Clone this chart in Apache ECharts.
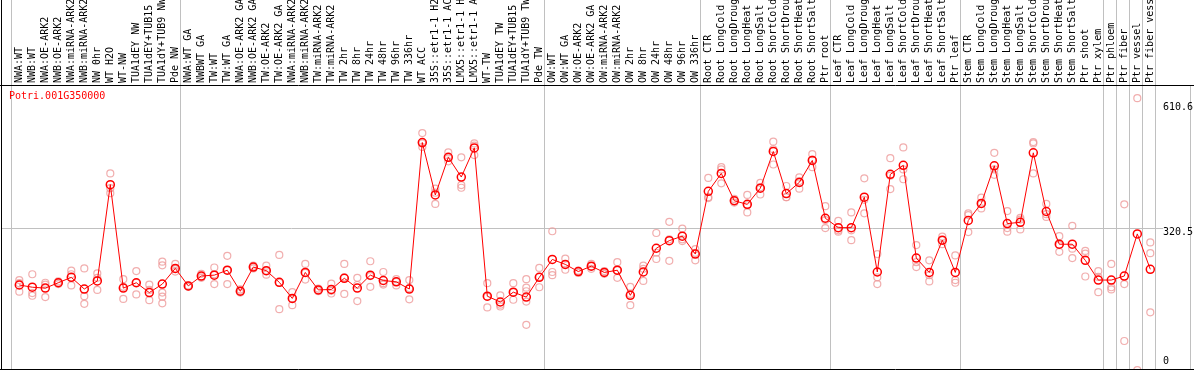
<!DOCTYPE html>
<html><head><meta charset="utf-8">
<script src="https://cdn.jsdelivr.net/npm/echarts@6/dist/echarts.min.js"></script>
<style>html,body{margin:0;padding:0;background:#fff}#c{width:1194px;height:370px}</style>
</head><body><div id="c"></div>
<script>
const chartTitle = 'Potri.001G350000';
const categories = [
 'NWA:WT','NWB:WT','NWA:OE-ARK2','NWB:OE-ARK2','NWA:miRNA-ARK2','NWB:miRNA-ARK2','NW 0hr','WT H2O','WT-NW','TUA1dEY NW','TUA1dEY+TUB15 NW','TUA1dY+TUB9 NW','Pde NW',
 'NWA:WT GA','NWBWT GA','TW:WT','TW:WT GA','NWA:OE-ARK2 GA','NWB:OE-ARK2 GA','TW:OE-ARK2','TW:OE-ARK2 GA','NWA:miRNA-ARK2 GA','NWB:miRNA-ARK2 GA','TW:miRNA-ARK2','TW:miRNA-ARK2 GA',
 'TW 2hr','TW 8hr','TW 24hr','TW 48hr','TW 96hr','TW 336hr','WT ACC','35S::etr1-1 H2O','35S::etr1-1 ACC','LMX5::etr1-1 H2O','LMX5::etr1-1 ACC','WT-TW','TUA1dEY TW','TUA1dEY+TUB15 TW','TUA1dY+TUB9 TW','Pde TW',
 'OW:WT','OW:WT GA','OW:OE-ARK2','OW:OE-ARK2 GA','OW:miRNA-ARK2','OW:miRNA-ARK2 GA','OW 2hr','OW 8hr','OW 24hr','OW 48hr','OW 96hr','OW 336hr',
 'Root CTR','Root LongCold','Root LongDrought','Root LongHeat','Root LongSalt','Root ShortCold','Root ShortDrought','Root ShortHeat','Root ShortSalt','Ptr root',
 'Leaf CTR','Leaf LongCold','Leaf LongDrought','Leaf LongHeat','Leaf LongSalt','Leaf ShortCold','Leaf ShortDrought','Leaf ShortHeat','Leaf ShortSalt','Ptr leaf',
 'Stem CTR','Stem LongCold','Stem LongDrought','Stem LongHeat','Stem LongSalt','Stem ShortCold','Stem ShortDrought','Stem ShortHeat','Stem ShortSalt','Ptr shoot','Ptr xylem',
 'Ptr phloem','Ptr fiber','Ptr vessel','Ptr fiber vessel'
];
const means = [
 194,189,187,199,211,185,203,418,187,199,177,196,231,
 192,214,216,227,180,234,226,200,164,222,183,184,
 209,187,216,204,201,185,512,395,479,435,500,169,156,178,167,211,
 251,240,224,236,222,227,171,223,276,293,303,263,
 403,443,382,374,410,492,398,423,472,343,
 322,322,390,223,441,461,254,222,294,222,
 338,376,460,331,334,489,358,285,285,249,205,
 205,214,308,229
];
const replicates = [
 [205,198,179],[218,176,170],[199,195,167],[202,199,196],[226,218,193],[231,169,152],[220,210,183],[443,410,399],[207,190,163],[225,199,173],[195,183,160],[246,238,177,168,153],[241,230,224],
 [193,191,190],[219,213,210],[233,218,196],[259,227,196],[184,181,177],[237,234,231],[237,226,217],[261,199,140],[178,164,149],[241,221,206],[186,183,180],[197,181,175],
 [241,211,174],[210,194,158],[247,214,190],[223,198,195],[207,201,193],[205,187,162],[533,510,502],[409,400,375],[490,478,470],[479,417,411],[510,505,484],[198,168,144],[171,150,146],[198,178,161],[207,188,180,157,105],[232,212,189],
 [314,223,216],[253,240,228],[226,224,221],[241,236,230],[225,222,219],[245,227,210],[190,174,149],[237,230,203],[310,266,252],[335,296,248],[320,296,292],[274,266,249],
 [433,390,388],[457,452,421],[386,382,378],[395,372,356],[422,412,396],[514,497,463],[415,390,390],[434,426,409],[486,474,457],[370,339,321],
 [337,316,313],[356,316,294],[432,384,354],[263,211,196],[477,438,408],[501,452,430],[283,245,234],[249,216,202],[302,294,285],[260,205,199],
 [354,350,312],[389,375,365],[489,452,440],[359,321,313],[344,340,318],[513,510,443],[375,352,346],[303,283,268],[326,275,254],[270,264,213],[225,212,178],
 [241,189,184],[374,196,69],[611,4],[289,265,133]
];
// index of the first category of every group (separators drawn before them)
const groupStarts = [0,13,41,53,63,73,84,85,86,87];
const yTickValues = [610.6, 320.5, 0];
const yTickLabels = ['610.6','320.5','0'];
const yMax = 640.4;

const repPoints = [];
replicates.forEach((arr,i)=>arr.forEach(v=>repPoints.push([i,v])));

const FONT = 'DejaVu Sans Mono';
const chart = echarts.init(document.getElementById('c'), null, {renderer:'canvas'});
chart.setOption({
  animation:false,
  backgroundColor:'#fff',
  grid:[
    {left:12.8, width:1144, top:0, height:83, outerBoundsMode:'none'},
    {left:12.8, width:1144, top:85, height:286.9, outerBoundsMode:'none'}
  ],
  xAxis:[
    {type:'category', gridIndex:0, data:categories, boundaryGap:true, position:'bottom',
     axisLine:{show:false}, axisTick:{show:false}, splitLine:{show:false},
     axisLabel:{inside:true, rotate:90, interval:0, margin:0, hideOverlap:false,
       fontFamily:FONT, fontSize:10, color:'#000'}},
    {type:'category', gridIndex:1, data:categories, boundaryGap:true, show:false}
  ],
  yAxis:[
    {type:'value', gridIndex:0, show:false},
    {type:'value', gridIndex:1, min:0, max:yMax, show:false}
  ],
  series:[
    {type:'scatter', xAxisIndex:1, yAxisIndex:1, data:repPoints, symbol:'circle', symbolSize:7,
     itemStyle:{color:'rgba(255,255,255,0)', borderColor:'#ee9a9a', borderWidth:1.2}, z:2, silent:true, clip:false},
    {type:'line', xAxisIndex:1, yAxisIndex:1, data:means, symbol:'circle', symbolSize:8, showSymbol:true,
     lineStyle:{color:'#ff0000', width:1}, itemStyle:{color:'rgba(255,255,255,0)', borderColor:'#ff0000', borderWidth:1.5},
     z:3, silent:true}
  ]
});

const px = i => chart.convertToPixel({xAxisIndex:1}, i);
const py = v => chart.convertToPixel({yAxisIndex:1}, v);
const g = [];
const gray = '#c0c0c0';
groupStarts.forEach(s=>{
  const x = Math.round(px(s)-8)+0.5;
  g.push({type:'line', shape:{x1:x,y1:0,x2:x,y2:369}, style:{stroke:gray,lineWidth:1}, z:1});
});
const xe = Math.round(px(categories.length-1)+4.7)+0.5;
g.push({type:'line', shape:{x1:xe,y1:0,x2:xe,y2:369}, style:{stroke:gray,lineWidth:1}, z:1});
g.push({type:'line', shape:{x1:1190.5,y1:85,x2:1190.5,y2:369}, style:{stroke:gray,lineWidth:1}, z:1});
const yg = Math.round(py(320.5))+0.5;
g.push({type:'line', shape:{x1:1,y1:yg,x2:1163,y2:yg}, style:{stroke:gray,lineWidth:1}, z:1});
// frame
g.push({type:'line', shape:{x1:1.5,y1:0,x2:1.5,y2:370}, style:{stroke:'#000',lineWidth:1}, z:5});
g.push({type:'line', shape:{x1:0,y1:85.5,x2:1194,y2:85.5}, style:{stroke:'#000',lineWidth:1}, z:5});
g.push({type:'line', shape:{x1:0,y1:369.5,x2:1194,y2:369.5}, style:{stroke:'#000',lineWidth:1}, z:5});
// y tick labels
const yOff = [3.7, -0.5, -15.9];
yTickValues.forEach((v,k)=>{
  g.push({type:'text', x:1163, y:py(v)+yOff[k], style:{text:yTickLabels[k], font:'10px "'+FONT+'"', fill:'#000', textAlign:'left', textVerticalAlign:'top'}, z:6});
});
g.push({type:'text', x:9, y:91, style:{text:chartTitle, font:'10px "'+FONT+'"', fill:'#ff0000', textAlign:'left', textVerticalAlign:'top'}, z:6});
chart.setOption({graphic:g});
</script></body></html>
